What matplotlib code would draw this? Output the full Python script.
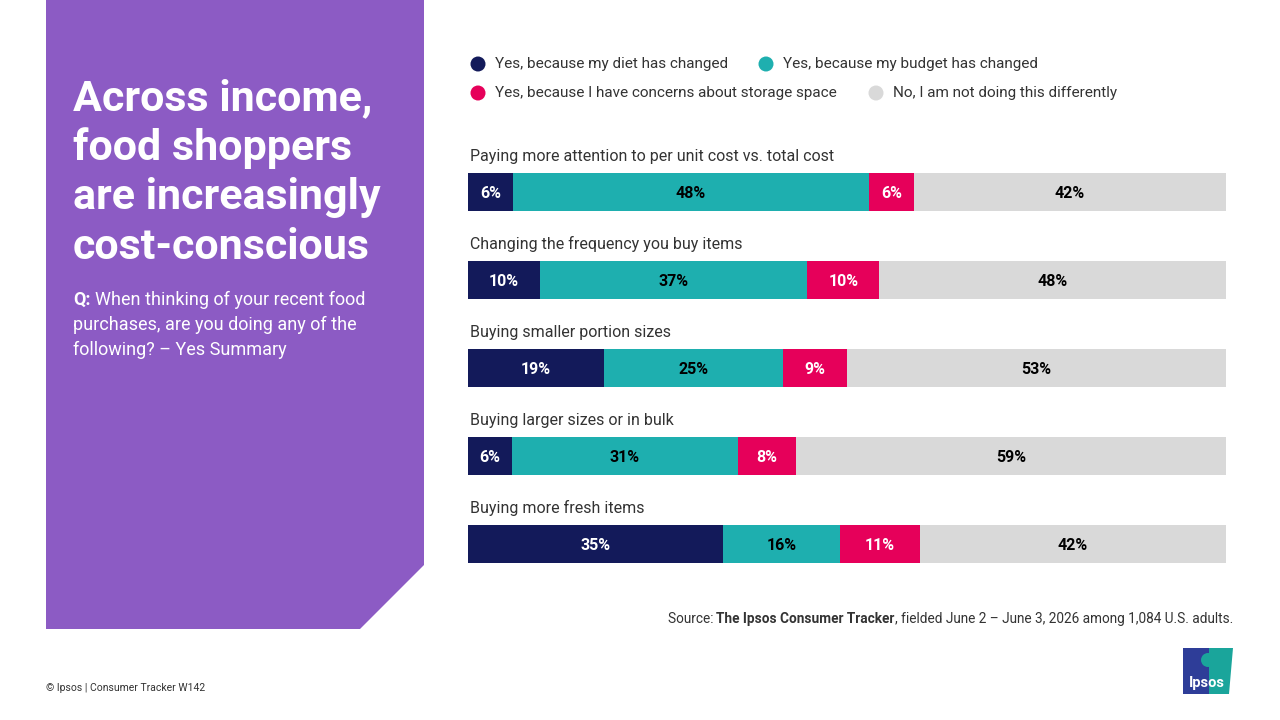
import matplotlib
matplotlib.use("Agg")
import matplotlib.pyplot as plt
from matplotlib.patches import Polygon, Rectangle, Ellipse
import numpy as np

plt.rcParams['font.family'] = ['Roboto', 'DejaVu Sans']

categories = [
    "Paying more attention to per unit cost vs. total cost",
    "Changing the frequency you buy items",
    "Buying smaller portion sizes",
    "Buying larger sizes or in bulk",
    "Buying more fresh items",
]
series_names = [
    "Yes, because my diet has changed",
    "Yes, because my budget has changed",
    "Yes, because I have concerns about storage space",
    "No, I am not doing this differently",
]
diet = [6, 10, 19, 6, 35]
budget = [48, 37, 25, 31, 16]
storage = [6, 10, 9, 8, 11]
not_diff = [42, 48, 53, 59, 42]

colors = ["#131A5A", "#1EAFAF", "#E6005A", "#D9D9D9"]
text_colors = ["white", "black", "white", "black"]

W, H = 1280, 720
fig = plt.figure(figsize=(12.8, 7.2), dpi=100)
fig.patch.set_facecolor("white")


def fx(x):
    return x / W


def fy(y):
    return 1 - y / H


def dot(x, y, r, c):
    fig.patches.append(Ellipse((fx(x), fy(y)), 2 * r / W, 2 * r / H,
                               transform=fig.transFigure, facecolor=c,
                               edgecolor="none"))


# purple side panel with cut corner
panel = Polygon([(fx(46), fy(0)), (fx(424), fy(0)), (fx(424), fy(565)),
                 (fx(360), fy(629)), (fx(46), fy(629))],
                closed=True, transform=fig.transFigure,
                facecolor="#8C5BC4", edgecolor="none")
fig.patches.append(panel)

title_lines = ["Across income,", "food shoppers", "are increasingly", "cost-conscious"]
for i, line in enumerate(title_lines):
    fig.text(fx(73), fy(99 + 49.5 * i), line, color="white", fontsize=31,
             fontweight="bold", va="center", ha="left")

fig.text(fx(73), fy(300), "Q:", color="white", fontsize=13, fontweight="bold",
         va="center")
fig.text(fx(95), fy(300), "When thinking of your recent food", color="white",
         fontsize=13, va="center")
fig.text(fx(73), fy(325), "purchases, are you doing any of the", color="white",
         fontsize=13, va="center")
fig.text(fx(73), fy(350), "following? \u2013 Yes Summary", color="white",
         fontsize=13, va="center")

# legend
leg_pos = [(478, 64), (766, 64), (478, 93), (876, 93)]
for (lx, ly), name, c in zip(leg_pos, series_names, colors):
    dot(lx, ly, 7.5, c)
    fig.text(fx(lx + 17), fy(ly), name, fontsize=11, color="#333333",
             va="center", ha="left")

# bars
ax = fig.add_axes([fx(468), 0, 758 / W, 1])
ax.set_xlim(0, 1)
ax.set_ylim(H, 0)
ax.axis("off")

data = np.array([diet, budget, storage, not_diff], dtype=float)
totals = data.sum(axis=0)
bar_h = 38
for i, cat in enumerate(categories):
    yc = 192 + 88 * i
    left = 0.0
    for s in range(4):
        w = data[s, i] / totals[i]
        ax.barh(yc, w, left=left, height=bar_h, color=colors[s], edgecolor="none")
        ax.text(left + w / 2, yc + 1, f"{int(data[s, i])}%", color=text_colors[s],
                fontsize=11.5, fontweight="bold", ha="center", va="center")
        left += w
    ax.text(0.003, yc - 36, cat, fontsize=11.5, color="#333333", ha="left",
            va="center")

# source line, built from pieces so the bold part keeps the same font
renderer = fig.canvas.get_renderer()
pieces = [("Source: ", "normal"), ("The Ipsos Consumer Tracker", "bold"),
          (", fielded June 2 \u2013 June 3, 2026 among 1,084 U.S. adults.", "normal")]
texts = []
for s, wt in pieces:
    texts.append(fig.text(0, fy(619), s, fontsize=9.8, color="#333333",
                          fontweight=wt, ha="left", va="center"))
widths = [t.get_window_extent(renderer).width for t in texts]
x0 = 1233 - sum(widths)
for t, wd in zip(texts, widths):
    t.set_x(fx(x0))
    x0 += wd

fig.text(fx(46), fy(688), "\u00a9 Ipsos | Consumer Tracker W142", fontsize=7.5,
         color="#333333", ha="left", va="center")

# logo
fig.patches.append(Rectangle((fx(1183), fy(694)), 26 / W, 46 / H,
                             transform=fig.transFigure, facecolor="#2E3D98",
                             edgecolor="none"))
fig.patches.append(Polygon([(fx(1209), fy(694)), (fx(1209), fy(648)),
                            (fx(1233), fy(648)), (fx(1229), fy(694))],
                           closed=True, transform=fig.transFigure,
                           facecolor="#1AA59B", edgecolor="none"))
dot(1208, 660, 7, "#1AA59B")
fig.text(fx(1207), fy(683), "Ipsos", color="white", fontsize=10.5,
         fontweight="bold", ha="center", va="center")

fig.savefig("out.png", dpi=100)
